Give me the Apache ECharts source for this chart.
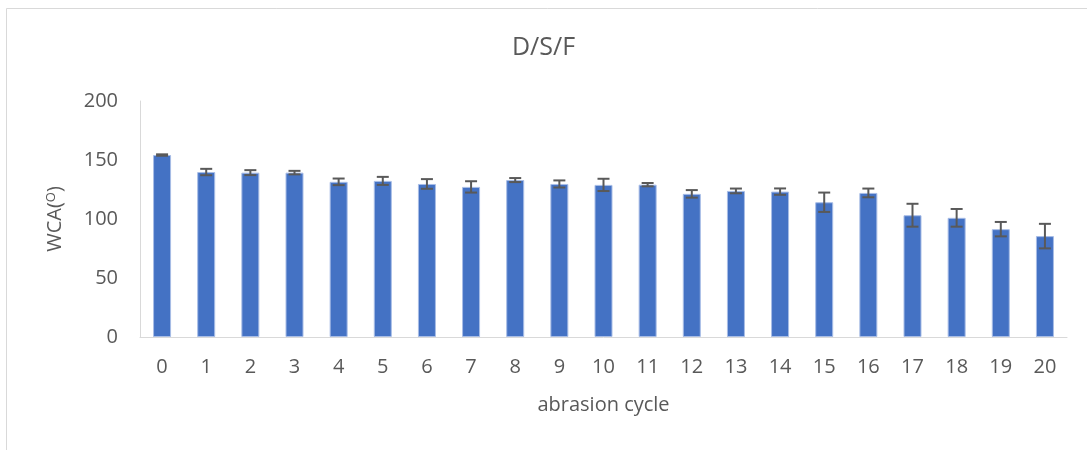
<!DOCTYPE html>
<html>
<head>
<meta charset="utf-8">
<script src="https://cdn.jsdelivr.net/npm/echarts@6/dist/echarts.min.js"></script>
<style>
html,body{margin:0;padding:0;background:#fff;}
#chart{width:1087px;height:450px;}
</style>
</head>
<body>
<div id="chart"></div>
<script>
const categories = ['0','1','2','3','4','5','6','7','8','9','10','11','12','13','14','15','16','17','18','19','20'];
const wcaValues = [154.2, 139.8, 139.3, 139.3, 131.5, 132.3, 129.7, 127.2, 133, 129.7, 128.9, 129.1, 121.3, 123.8, 123.2, 114.2, 122.1, 103.2, 101, 91.4, 85.5];
const wcaErrors = [0.6, 2.7, 2.1, 1.5, 2.8, 3.4, 4.1, 4.8, 1.7, 3, 5.2, 1.4, 3.2, 2, 2.7, 8.2, 3.7, 9.7, 7.5, 6.1, 10.4];
const yTicks = [0, 50, 100, 150, 200];

const FONT = 'Open Sans';
const TXT = '#595959';

const chart = echarts.init(document.getElementById('chart'), null, {renderer: 'canvas'});
const option = {
  backgroundColor: '#ffffff',
  animation: false,
  title: {
    text: 'D/S/F',
    left: 'center',
    top: 30,
    textStyle: {fontFamily: FONT, fontSize: 25, fontWeight: 'normal', color: TXT}
  },
  graphic: [{
    type: 'rect',
    shape: {x: 6.5, y: 8.5, width: 1200, height: 600},
    style: {fill: null, stroke: '#d9d9d9', lineWidth: 1},
    silent: true, z: -10
  }],
  grid: {left: 140, right: 20, top: 101, bottom: 113, containLabel: false},
  xAxis: {
    type: 'category',
    data: categories,
    name: 'abrasion cycle',
    nameLocation: 'middle',
    nameGap: 58,
    nameTextStyle: {fontFamily: FONT, fontSize: 20, color: TXT},
    axisLine: {lineStyle: {color: '#d9d9d9', width: 1}},
    axisTick: {show: false},
    axisLabel: {fontFamily: FONT, fontSize: 20, color: TXT, margin: 20}
  },
  yAxis: {
    type: 'value',
    min: yTicks[0],
    max: yTicks[yTicks.length - 1],
    interval: 50,
    name: 'WCA({s|O})',
    nameLocation: 'middle',
    nameGap: 74,
    nameTextStyle: {
      fontFamily: FONT, fontSize: 20, color: TXT,
      rich: {s: {fontFamily: FONT, fontSize: 13, color: TXT, verticalAlign: 'top', padding: [0, 0, 8, 0]}}
    },
    axisLine: {show: true, lineStyle: {color: '#d9d9d9', width: 1}},
    axisTick: {show: false},
    splitLine: {show: false},
    axisLabel: {fontFamily: FONT, fontSize: 20, color: TXT, margin: 22}
  },
  series: [
    {
      type: 'bar',
      data: wcaValues,
      barWidth: 18,
      itemStyle: {color: '#4472C4', borderColor: '#a8bde6', borderWidth: 1}
    },
    {
      type: 'custom',
      z: 5,
      data: categories.map((c, i) => [i, wcaValues[i], wcaErrors[i]]),
      encode: {x: 0, y: 1},
      renderItem: function (params, api) {
        const idx = api.value(0);
        const v = api.value(1);
        const e = api.value(2);
        const hi = api.coord([idx, v + e]);
        const lo = api.coord([idx, v - e]);
        const hw = 6;
        const st = {stroke: '#595959', lineWidth: 2};
        return {
          type: 'group',
          children: [
            {type: 'line', shape: {x1: hi[0], y1: hi[1], x2: lo[0], y2: lo[1]}, style: st},
            {type: 'line', shape: {x1: hi[0] - hw, y1: hi[1], x2: hi[0] + hw, y2: hi[1]}, style: st},
            {type: 'line', shape: {x1: lo[0] - hw, y1: lo[1], x2: lo[0] + hw, y2: lo[1]}, style: st}
          ]
        };
      }
    }
  ]
};
chart.setOption(option);
</script>
</body>
</html>
